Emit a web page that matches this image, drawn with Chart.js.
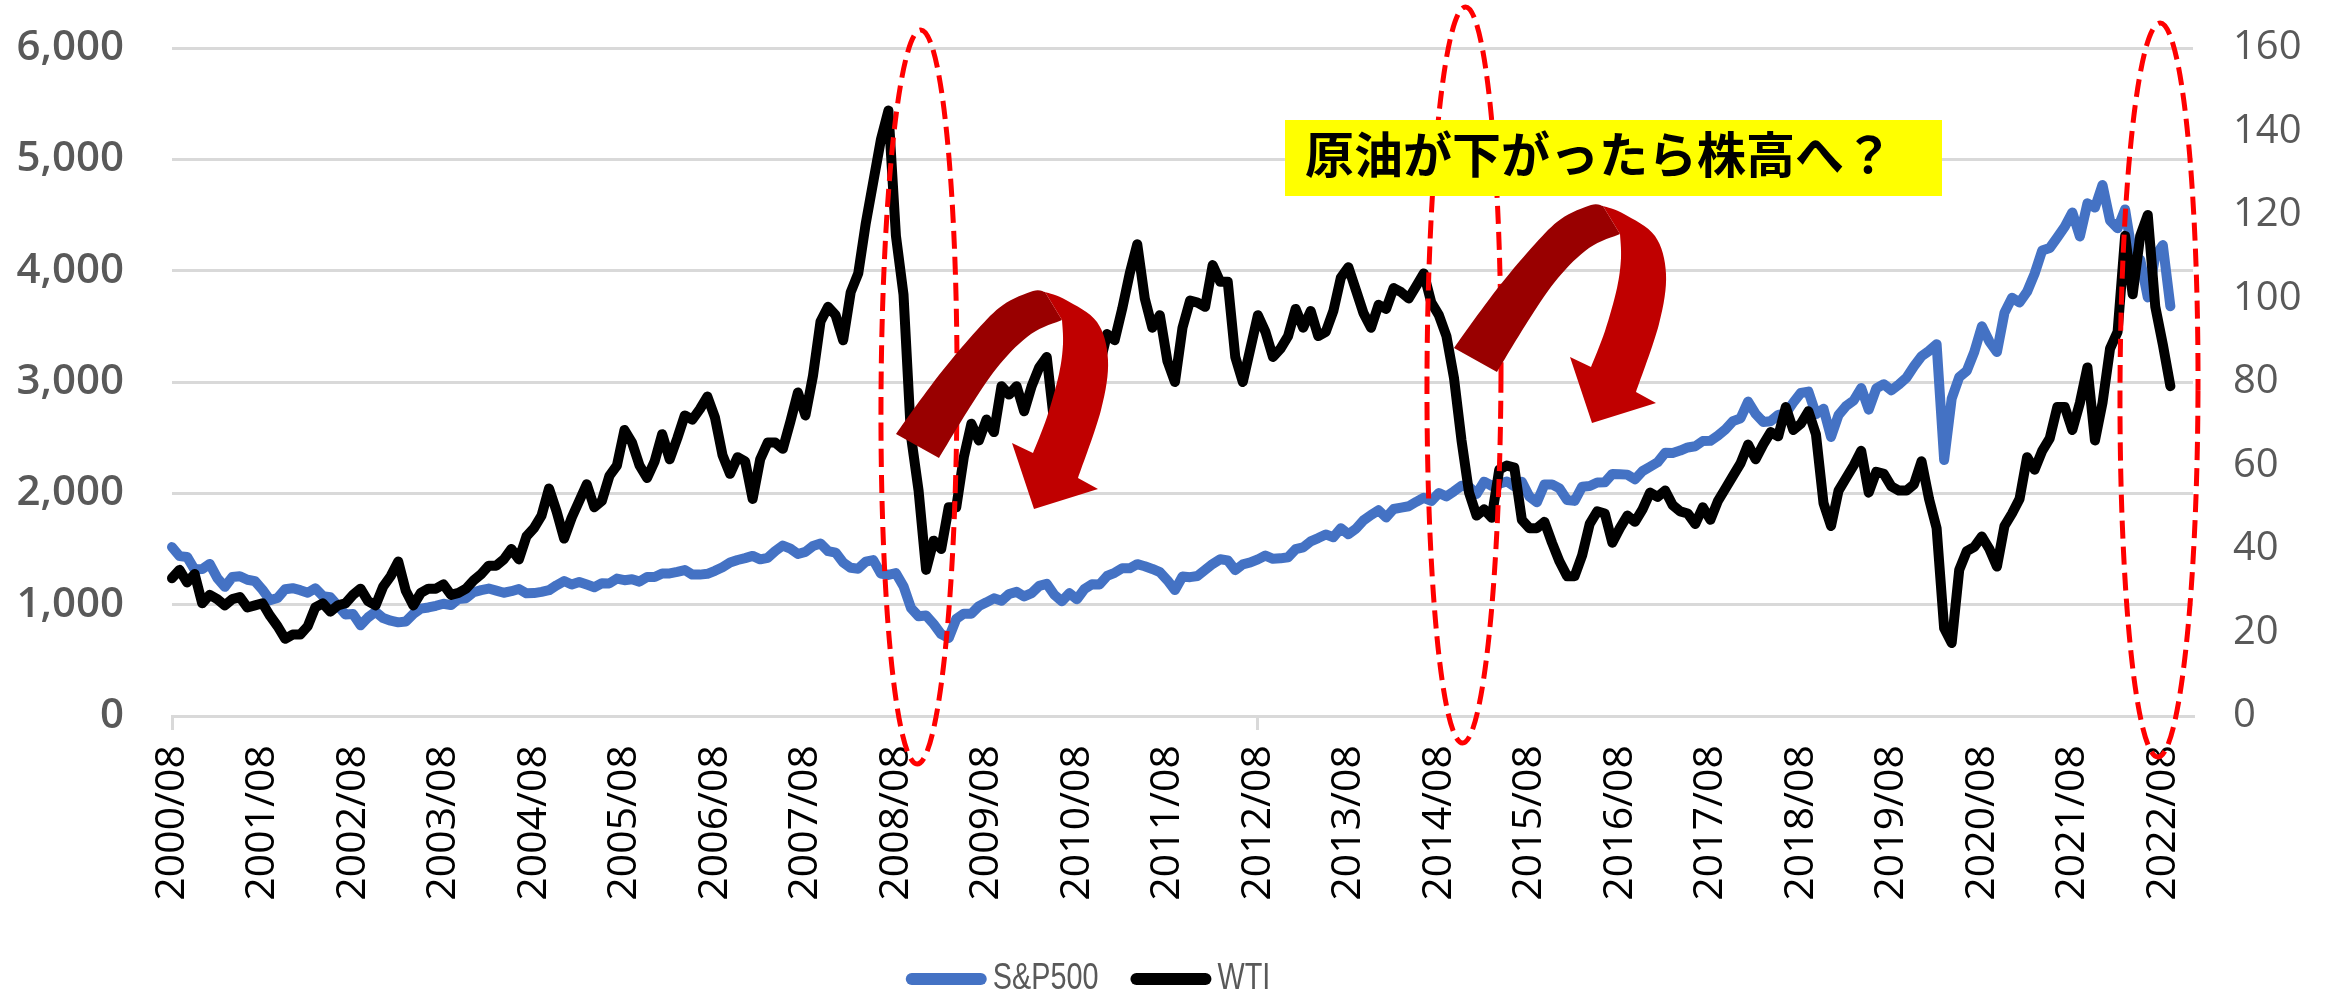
<!DOCTYPE html>
<html>
<head>
<meta charset="utf-8">
<title>S&P500 vs WTI</title>
<script src="https://cdn.jsdelivr.net/npm/chart.js@4.4.0/dist/chart.umd.min.js"></script>
<style>
  html, body { margin: 0; padding: 0; background: #fff; }
  #wrap { width: 2343px; height: 998px; }
</style>
</head>
<body>
<div id="wrap"><canvas id="oilChart" width="2343" height="998"></canvas></div>
<script>
// month labels 2000/08 .. 2022/12 (axis runs a little past the last data point)
const months = [];
for (let y = 2000, m = 8; y < 2023;) {
    months.push(y + '/' + String(m).padStart(2, '0'));
    m++;
    if (m > 12) { m = 1; y++; }
}

// S&P500, monthly, 2000/08 .. 2022/09 (left axis)
const sp500 = [
    1517, 1436, 1429, 1315, 1320,
    1366, 1240, 1160, 1249, 1256, 1224, 1211, 1134, 1041, 1060, 1139, 1148,
    1130, 1107, 1147, 1077, 1067, 990, 912, 916, 815, 886, 936, 880,
    856, 841, 848, 917, 964, 975, 990, 1008, 996, 1051, 1058, 1112,
    1131, 1145, 1126, 1107, 1121, 1141, 1102, 1104, 1115, 1130, 1174, 1212,
    1181, 1204, 1181, 1157, 1192, 1191, 1234, 1220, 1229, 1207, 1249, 1248,
    1280, 1281, 1295, 1311, 1270, 1270, 1277, 1304, 1336, 1378, 1401, 1418,
    1438, 1407, 1421, 1482, 1531, 1503, 1455, 1474, 1527, 1549, 1481, 1468,
    1379, 1331, 1323, 1386, 1400, 1280, 1267, 1283, 1166, 969, 896, 903,
    826, 735, 700, 873, 919, 919, 987, 1021, 1057, 1036, 1096, 1115,
    1074, 1104, 1169, 1187, 1089, 1031, 1102, 1049, 1141, 1183, 1181, 1258,
    1286, 1327, 1326, 1364, 1345, 1321, 1292, 1219, 1131, 1253, 1247, 1258,
    1312, 1366, 1408, 1398, 1310, 1362, 1379, 1407, 1441, 1412, 1416, 1426,
    1498, 1515, 1569, 1598, 1631, 1606, 1686, 1633, 1682, 1757, 1806, 1848,
    1783, 1859, 1872, 1884, 1924, 1960, 1931, 2003, 1972, 2018, 2068, 2059,
    1995, 2105, 2068, 2086, 2107, 2063, 2104, 1972, 1920, 2079, 2080, 2044,
    1940, 1932, 2060, 2065, 2097, 2099, 2174, 2171, 2168, 2126, 2199, 2239,
    2279, 2364, 2363, 2384, 2412, 2423, 2470, 2472, 2519, 2575, 2648, 2674,
    2824, 2714, 2641, 2648, 2705, 2718, 2816, 2902, 2914, 2712, 2760, 2507,
    2704, 2784, 2834, 2946, 2752, 2942, 2980, 2926, 2977, 3038, 3141, 3231,
    3280, 3340, 2300, 2850, 3044, 3100, 3271, 3500, 3363, 3270, 3622, 3756,
    3714, 3811, 3973, 4181, 4204, 4298, 4395, 4523, 4308, 4605, 4567, 4770,
    4450, 4380, 4550, 4130, 4100, 3760, 4130, 4230, 3680
];

// WTI, monthly, 2000/08 .. 2022/09 (right axis)
const wti = [
    33, 35, 32, 34, 27,
    29, 28, 26.5, 28, 28.5, 26, 26.5, 27, 24, 21.5, 18.5, 19.5,
    19.5, 21.5, 26, 27, 25, 26.5, 27, 29, 30.5, 27.5, 26.5, 31,
    33.5, 37, 30, 26.5, 29.5, 30.5, 30.5, 31.5, 29, 29.5, 30.5, 32.5,
    34, 36, 36, 37.5, 40, 37.5, 43, 45, 48, 54.5, 49, 42.5,
    47.5, 51.5, 55.5, 50, 51.5, 57.5, 60, 68.5, 65.5, 60, 57, 61,
    67.5, 61.5, 66.5, 72, 71, 73.5, 76.5, 71.5, 62.5, 58, 62, 61,
    52, 61.5, 65.5, 65.5, 64, 70.5, 77.5, 72, 81.5, 94.5, 98, 96,
    90, 101.5, 106, 118, 128, 138, 145, 115, 101, 67, 54, 35,
    42, 40, 50, 50, 62, 70, 66, 71, 68, 79, 77, 79,
    73, 79, 83.5, 86, 70, 76, 79, 72, 80, 81.5, 84, 91.5,
    90, 97.5, 106, 113, 100, 93, 96, 85, 80, 93, 99.5, 99,
    98, 108, 104, 104, 86, 80, 88, 96, 92, 86, 88, 91,
    97.5, 93, 97, 91, 92, 97, 105, 107.5, 102, 96.5, 93, 98.5,
    97.5, 102.5, 101.5, 100, 103, 106, 99, 96, 91, 81, 66, 53.5,
    48, 49.5, 47.5, 59, 60, 59.5, 47, 45, 45, 46.5, 41.5, 37,
    33.5, 33.5, 38.5, 46, 49, 48.5, 41.5, 45, 48, 46.5, 49.5, 53.5,
    52.5, 54, 50.5, 49, 48.5, 46, 50, 47, 51.5, 54.5, 57.5, 60.5,
    65, 61.5, 65, 68, 67, 74, 68.5, 70, 73, 67.5, 51, 45.5,
    54, 57, 60, 63.5, 53.5, 58.5, 58, 55, 54, 54, 55.5, 61,
    52, 45, 21, 17.5, 35, 39.5, 40.5, 43, 40, 35.8, 45.5, 48.5,
    52, 62, 59, 63.5, 66.5, 74, 74, 68.5, 75, 83.5, 66, 75,
    88, 92, 115, 101, 115, 120, 98, 89, 79
];

const calloutText = '原油が下がったら株高へ？';

// dashed ovals drawn over the chart: cx, cy, rx, ry, tilt
const ovals = [
    [919, 397, 38, 367, 0.005],
    [1464, 375, 37, 368, 0.004],
    [2159, 390, 39, 367, 0.003]
];
// origins of the two curved arrows (same shape)
const arrowOrigins = [[896, 434], [1454, 348]];

function smoothPath(ctx, pts, ox, oy) {
    ctx.lineTo(ox + pts[0][0], oy + pts[0][1]);
    for (let i = 0; i < pts.length - 1; i++) {
        const p0 = pts[i - 1] || pts[i], p1 = pts[i], p2 = pts[i + 1], p3 = pts[i + 2] || p2;
        ctx.bezierCurveTo(
            ox + p1[0] + (p2[0] - p0[0]) / 6, oy + p1[1] + (p2[1] - p0[1]) / 6,
            ox + p2[0] - (p3[0] - p1[0]) / 6, oy + p2[1] - (p3[1] - p1[1]) / 6,
            ox + p2[0], oy + p2[1]);
    }
}

function drawArrow(ctx, ox, oy) {
    // back part of the ribbon
    ctx.beginPath();
    ctx.moveTo(ox, oy);
    smoothPath(ctx, [[0, 0], [17, -24], [47, -64], [81, -104], [107, -129], [137, -143], [149, -142]], ox, oy);
    ctx.lineTo(ox + 166, oy - 114);
    smoothPath(ctx, [[166, -114], [135, -100], [104, -70], [76, -30], [43, 24]], ox, oy);
    ctx.closePath();
    ctx.fillStyle = '#990000';
    ctx.fill();

    // front part with head
    ctx.beginPath();
    ctx.moveTo(ox + 149, oy - 142);
    smoothPath(ctx, [[149, -142], [170, -134], [201, -112], [212, -74], [205, -24], [182, 44]], ox, oy);
    ctx.lineTo(ox + 202, oy + 55);
    ctx.lineTo(ox + 138, oy + 75);
    ctx.lineTo(ox + 116, oy + 9);
    ctx.lineTo(ox + 137, oy + 19);
    smoothPath(ctx, [[137, 19], [151, -17], [163, -60], [167, -90], [166, -114]], ox, oy);
    ctx.closePath();
    ctx.fillStyle = '#c00000';
    ctx.fill();
}

const overlay = {
    id: 'overlay',
    afterDraw(chart) {
        const ctx = chart.ctx;
        ctx.save();

        // red dashed ovals
        ctx.strokeStyle = '#ff0000';
        ctx.lineWidth = 5;
        ctx.setLineDash([18, 8]);
        ovals.forEach(o => {
            ctx.beginPath();
            ctx.ellipse(o[0], o[1], o[2], o[3], o[4], 0, Math.PI * 2);
            ctx.stroke();
        });
        ctx.setLineDash([]);

        // yellow callout
        ctx.fillStyle = '#ffff00';
        ctx.fillRect(1285, 120, 657, 76);
        ctx.fillStyle = '#000';
        ctx.font = 'bold 49px "Noto Sans CJK JP"';
        ctx.textBaseline = 'middle';
        ctx.textAlign = 'left';
        ctx.fillText(calloutText, 1305, 154);

        arrowOrigins.forEach(a => drawArrow(ctx, a[0], a[1]));

        // legend (narrow text, like the original)
        const sx = 0.8;
        ctx.font = '36px "Liberation Sans", Arial, sans-serif';
        ctx.textBaseline = 'middle';
        const items = chart.data.datasets.map(d => ({ label: d.label, color: d.borderColor, w: ctx.measureText(d.label).width * sx }));
        const total = items.reduce((s, it) => s + 81 + 6 + it.w, 0) + 32 * (items.length - 1);
        let x = 1088 - total / 2;
        const ly = 979;
        items.forEach(it => {
            ctx.strokeStyle = it.color;
            ctx.lineWidth = 12;
            ctx.lineCap = 'round';
            ctx.beginPath();
            ctx.moveTo(x + 6, ly);
            ctx.lineTo(x + 75, ly);
            ctx.stroke();
            ctx.save();
            ctx.translate(x + 87, ly);
            ctx.scale(sx, 1);
            ctx.fillStyle = '#595959';
            ctx.fillText(it.label, 0, 0);
            ctx.restore();
            x += 81 + 6 + it.w + 32;
        });
        ctx.restore();
    }
};

const ctx = document.getElementById('oilChart').getContext('2d');
const oilChart = new Chart(ctx, {
    type: 'line',
    data: {
        labels: months,
        datasets: [
            {
                label: 'S&P500',
                data: sp500,
                yAxisID: 'y',
                borderColor: '#4472C4',
                backgroundColor: '#4472C4',
                borderWidth: 10,
                pointRadius: 0,
                borderJoinStyle: 'round',
                borderCapStyle: 'round',
                order: 1
            },
            {
                label: 'WTI',
                data: wti,
                yAxisID: 'y1',
                borderColor: '#000000',
                backgroundColor: '#000000',
                borderWidth: 10,
                pointRadius: 0,
                borderJoinStyle: 'round',
                borderCapStyle: 'round',
                order: 0
            }
        ]
    },
    options: {
        responsive: false,
        animation: false,
        layout: { padding: { top: 48, left: 0, right: 0, bottom: 0 } },
        plugins: {
            legend: { display: false },
            tooltip: { enabled: false }
        },
        scales: {
            x: {
                offset: false,
                grid: {
                    drawOnChartArea: false,
                    drawTicks: true,
                    tickLength: 14,
                    lineWidth: 3,
                    color: c => (c.index % 12 === 0 ? '#d9d9d9' : 'rgba(0,0,0,0)')
                },
                border: { display: true, color: '#d9d9d9', width: 3 },
                ticks: {
                    autoSkip: false,
                    minRotation: 90,
                    maxRotation: 90,
                    padding: 15,
                    color: '#000000',
                    font: { family: 'Open Sans', size: 41 },
                    callback: function (val, i) {
                        return i % 12 === 0 ? this.getLabelForValue(val) : null;
                    }
                },
                afterFit: s => { s.height = 282; }
            },
            y: {
                position: 'left',
                min: 0,
                max: 6000,
                // invisible tick marks give the gap between labels and plot
                grid: { color: '#d9d9d9', lineWidth: 3, drawTicks: true, tickLength: 48, tickColor: 'rgba(0,0,0,0)' },
                border: { display: false },
                ticks: {
                    stepSize: 1000,
                    padding: 0,
                    color: '#595959',
                    font: { family: 'Open Sans', size: 42, weight: '600' },
                    callback: v => v.toLocaleString('en-US')
                },
                afterFit: s => { s.width = 172; }
            },
            y1: {
                position: 'right',
                min: 0,
                max: 160,
                grid: { display: true, drawOnChartArea: false, drawTicks: true, tickLength: 40, tickColor: 'rgba(0,0,0,0)' },
                border: { display: false },
                ticks: {
                    stepSize: 20,
                    padding: 0,
                    color: '#595959',
                    font: { family: 'Open Sans', size: 40 }
                },
                afterFit: s => { s.width = 150; }
            }
        }
    },
    plugins: [overlay]
});
</script>
</body>
</html>
